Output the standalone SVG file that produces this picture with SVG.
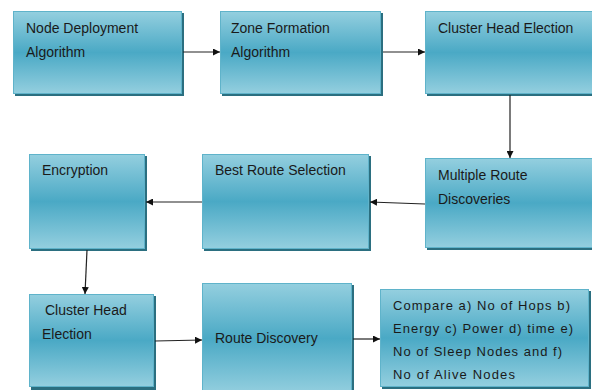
<svg xmlns="http://www.w3.org/2000/svg" width="592" height="390" viewBox="0 0 592 390">
<defs>
<linearGradient id="g" x1="0" y1="0" x2="0" y2="1">
<stop offset="0" stop-color="#94cfdf"/>
<stop offset="0.5" stop-color="#4aa9c5"/>
<stop offset="1" stop-color="#94cfdf"/>
</linearGradient>
<marker id="ah" viewBox="0 0 10 10" refX="10" refY="5" markerWidth="7" markerHeight="7" markerUnits="userSpaceOnUse" orient="auto">
<path d="M0,0 L10,5 L0,10 z" fill="#111"/>
</marker>
</defs>
<style>
.sh{fill:#2b6f80}
.bx{fill:url(#g);stroke:#5fb3ca;stroke-width:1}
.t{font-family:"Liberation Sans",Arial,sans-serif;font-size:14px;fill:#1a1a1a}
.s{font-family:"Liberation Sans",Arial,sans-serif;font-size:13px;fill:#1a1a1a}
.c{stroke:#222;stroke-width:1.2;fill:none;marker-end:url(#ah)}
</style>
<rect width="592" height="390" fill="#ffffff"/>
<g id="n1"><rect class="sh" x="15" y="13" width="169" height="83"/><rect class="bx" x="13.5" y="11.5" width="168" height="82"/><text class="t" x="26" y="33">Node Deployment</text><text class="t" x="26" y="57">Algorithm</text></g>
<g id="n2"><rect class="sh" x="222" y="13" width="161" height="83"/><rect class="bx" x="220.5" y="11.5" width="160" height="82"/><text class="t" x="231" y="33">Zone Formation</text><text class="t" x="231" y="57">Algorithm</text></g>
<g id="n3"><rect class="sh" x="427" y="13" width="180" height="83"/><rect class="bx" x="425.5" y="11.5" width="180" height="82"/><text class="t" x="438" y="33">Cluster Head Election</text></g>
<g id="n4"><rect class="sh" x="427" y="160" width="180" height="90"/><rect class="bx" x="425.5" y="158.5" width="180" height="89"/><text class="t" x="438" y="180">Multiple Route</text><text class="t" x="438" y="204">Discoveries</text></g>
<g id="n5"><rect class="sh" x="204" y="156" width="167" height="95"/><rect class="bx" x="202.5" y="154.5" width="166" height="94"/><text class="t" x="215" y="175">Best Route Selection</text></g>
<g id="n6"><rect class="sh" x="31" y="156" width="116" height="95"/><rect class="bx" x="29.5" y="154.5" width="115" height="94"/><text class="t" x="42" y="175">Encryption</text></g>
<g id="n7"><rect class="sh" x="31" y="296" width="125" height="94"/><rect class="bx" x="29.5" y="294.5" width="124" height="92"/><text class="t" x="45" y="315">Cluster Head</text><text class="t" x="42" y="339">Election</text></g>
<g id="n8"><rect class="sh" x="204" y="285" width="150" height="110"/><rect class="bx" x="202.5" y="283.5" width="149" height="110"/><text class="t" x="215" y="343">Route Discovery</text></g>
<g id="n9"><rect class="sh" x="382" y="291" width="209" height="98"/><rect class="bx" x="380.5" y="289.5" width="208" height="97"/>
<text class="s" x="393" y="310" textLength="177" lengthAdjust="spacing">Compare a) No of Hops b)</text>
<text class="s" x="393" y="333" textLength="180" lengthAdjust="spacing">Energy c) Power d) time e)</text>
<text class="s" x="393" y="356" textLength="169" lengthAdjust="spacing">No of Sleep Nodes and f)</text>
<text class="s" x="393" y="379" textLength="122" lengthAdjust="spacing">No of Alive Nodes</text></g>
<g id="connectors">
<line class="c" x1="183" y1="52" x2="220" y2="52"/>
<line class="c" x1="383" y1="52" x2="425" y2="52"/>
<line class="c" x1="510" y1="95" x2="510" y2="158"/>
<line class="c" x1="425" y1="204" x2="370" y2="202"/>
<line class="c" x1="202" y1="202" x2="146" y2="202"/>
<line class="c" x1="87" y1="250" x2="85" y2="294"/>
<line class="c" x1="155" y1="341" x2="202" y2="340"/>
<line class="c" x1="353" y1="339" x2="380" y2="339"/>
</g>
</svg>
